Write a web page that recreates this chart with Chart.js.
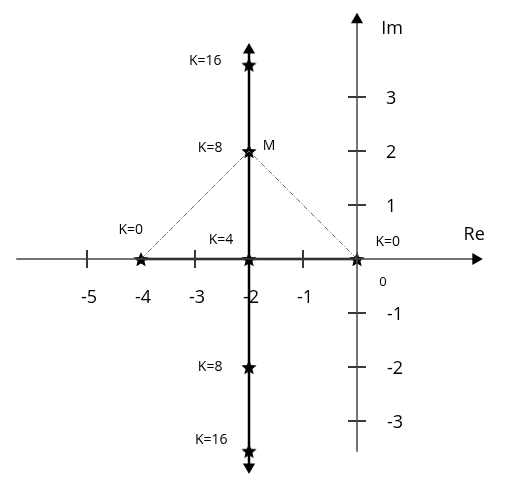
<!DOCTYPE html>
<html lang="en">
<head>
  <meta charset="UTF-8" />
  <title>Root locus</title>
  <script src="https://cdn.jsdelivr.net/npm/chart.js"></script>
  <style>
    body {
      margin: 0;
      background: #fff;
    }
    .chart-box {
      width: 511px;
      height: 489px;
    }
  </style>
</head>
<body>
  <div class="chart-box"><canvas id="locusChart"></canvas></div>

  <script>
    // axes (data units)
    const reAxis = [{x: -6.31, y: 0}, {x: 2.2, y: 0}];
    const imAxis = [{x: 0, y: -3.57}, {x: 0, y: 4.43}];
    const reTickMarks = [-5, -3, -1];
    const imTickMarks = [3, 2, 1, -1, -2, -3];
    const reTickLabels = [-5, -4, -3, -2, -1];
    const imTickLabels = [3, 2, 1, -1, -2, -3];

    // root locus branches
    const realBranch = [{x: -4, y: 0}, {x: 0, y: 0}];
    const verticalBranch = [{x: -2, y: -3.85}, {x: -2, y: 3.87}];
    const guideLines = [{x: -4, y: 0}, {x: -2, y: 2}, {x: 0, y: 0}];
    const gainPoints = [
      {x: -4, y: 0}, {x: 0, y: 0}, {x: -2, y: 0},
      {x: -2, y: 2}, {x: -2, y: -2}, {x: -2, y: 3.6}, {x: -2, y: -3.55}
    ];

    // text notes, placed in data units
    const notes = [
      {text: "K=16", x: -2.81, y: 3.67},
      {text: "K=8", x: -2.72, y: 2.06},
      {text: "M", x: -1.63, y: 2.09},
      {text: "K=4", x: -2.52, y: 0.35},
      {text: "K=0", x: -4.19, y: 0.54},
      {text: "K=0", x: 0.57, y: 0.31},
      {text: "K=8", x: -2.72, y: -2.0},
      {text: "K=16", x: -2.70, y: -3.35}
    ];
    const axisNames = [
      {text: "Im", x: 0.65, y: 4.26},
      {text: "Re", x: 2.17, y: 0.44}
    ];
    const originLabel = {text: "0", x: 0.48, y: -0.43};

    function makeStar(size) {
      const c = document.createElement("canvas");
      c.width = size;
      c.height = size;
      const g = c.getContext("2d");
      const cx = size / 2, cy = size / 2;
      const outer = size / 2, inner = size / 2 * 0.45;
      g.beginPath();
      for (let i = 0; i < 10; i++) {
        const r = i % 2 === 0 ? outer : inner;
        const a = -Math.PI / 2 + i * Math.PI / 5;
        const px = cx + r * Math.cos(a), py = cy + r * Math.sin(a) + 0.9;
        if (i === 0) g.moveTo(px, py); else g.lineTo(px, py);
      }
      g.closePath();
      g.fillStyle = "#000";
      g.fill();
      return c;
    }

    const textPlugin = {
      id: "locusText",
      afterDatasetsDraw(chart) {
        const ctx = chart.ctx;
        const xs = chart.scales.x, ys = chart.scales.y;
        ctx.save();
        ctx.fillStyle = "#000";
        ctx.textBaseline = "middle";

        ctx.font = "18px 'Open Sans'";
        ctx.textAlign = "center";
        reTickLabels.forEach(v => {
          ctx.fillText(String(v), xs.getPixelForValue(v) + 2, ys.getPixelForValue(0) + 39);
        });
        ctx.textAlign = "left";
        imTickLabels.forEach(v => {
          ctx.fillText(String(v), xs.getPixelForValue(0) + (v < 0 ? 30 : 29), ys.getPixelForValue(v) + 2);
        });

        ctx.textAlign = "center";
        axisNames.forEach(n => {
          ctx.fillText(n.text, xs.getPixelForValue(n.x), ys.getPixelForValue(n.y));
        });

        ctx.font = "14px 'Open Sans'";
        notes.forEach(n => {
          ctx.fillText(n.text, xs.getPixelForValue(n.x), ys.getPixelForValue(n.y));
        });
        ctx.font = "13px 'Open Sans'";
        ctx.fillText(originLabel.text, xs.getPixelForValue(originLabel.x), ys.getPixelForValue(originLabel.y));
        ctx.restore();
      }
    };

    const starStyle = makeStar(16);
    const axisColor = "#444";

    new Chart(document.getElementById("locusChart"), {
      type: "scatter",
      data: {
        datasets: [
          {
            data: reAxis, showLine: true, borderColor: axisColor, borderWidth: 1.5,
            pointStyle: "triangle", pointRadius: [0, 7], pointRotation: 90,
            pointBackgroundColor: "#000", pointBorderColor: "#000", pointBorderWidth: 0
          },
          {
            data: imAxis, showLine: true, borderColor: axisColor, borderWidth: 1.5,
            pointStyle: "triangle", pointRadius: [0, 7], pointRotation: 0,
            pointBackgroundColor: "#000", pointBorderColor: "#000", pointBorderWidth: 0
          },
          {
            data: reTickMarks.map(v => ({x: v, y: 0})), showLine: false,
            pointStyle: "line", pointRadius: 9, pointRotation: 90,
            pointBorderColor: "#222", pointBorderWidth: 1.8
          },
          {
            data: imTickMarks.map(v => ({x: 0, y: v})), showLine: false,
            pointStyle: "line", pointRadius: 9, pointRotation: 0,
            pointBorderColor: "#222", pointBorderWidth: 1.8
          },
          {
            data: guideLines, showLine: true, borderColor: "#666", borderWidth: 1,
            borderDash: [5, 2, 1, 2], pointRadius: 0
          },
          {
            data: realBranch, showLine: true, borderColor: "#000", borderWidth: 2.5,
            pointRadius: 0
          },
          {
            data: verticalBranch, showLine: true, borderColor: "#000", borderWidth: 2.5,
            pointStyle: "triangle", pointRadius: 7, pointRotation: [180, 0],
            pointBackgroundColor: "#000", pointBorderColor: "#000", pointBorderWidth: 0
          },
          {
            data: gainPoints, showLine: false, pointStyle: starStyle, pointRadius: 8
          }
        ]
      },
      options: {
        responsive: true,
        maintainAspectRatio: false,
        animation: false,
        layout: { padding: 0, autoPadding: false },
        plugins: {
          legend: { display: false },
          tooltip: { enabled: false }
        },
        scales: {
          x: { type: "linear", display: false, min: -357 / 54, max: 154 / 54 },
          y: { type: "linear", display: false, min: -230 / 54, max: 259 / 54 }
        }
      },
      plugins: [textPlugin]
    });
  </script>
</body>
</html>
